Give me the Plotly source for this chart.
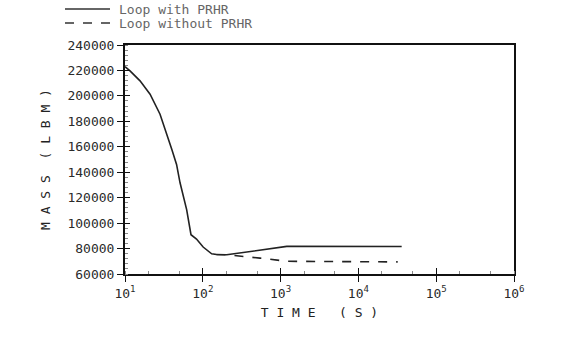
import plotly.graph_objects as go

# Loop with PRHR (solid) -- includes common early part
t_with = [10, 11.6, 15.6, 21, 28.2, 36, 40, 46, 51, 62, 70.5, 83, 101, 130, 150, 203, 543, 1200, 36000]
m_with = [223000, 219700, 211800, 201300, 185600, 167200, 157900, 146100, 131700, 110600,
          90900, 87500, 81200, 75900, 75300, 75100, 78500, 81700, 81600]

# Loop without PRHR (dashed) -- after split
t_without = [150, 203, 543, 1200, 32000]
m_without = [75300, 75100, 72500, 70000, 69500]

series_names = ["Loop with PRHR", "Loop without PRHR"]
x_tickvals = [10, 100, 1000, 10000, 100000, 1000000]
x_ticktext = ["10<sup>1</sup>", "10<sup>2</sup>", "10<sup>3</sup>", "10<sup>4</sup>", "10<sup>5</sup>", "10<sup>6</sup>"]
y_tickvals = list(range(60000, 240001, 20000))

font_fam = "DejaVu Sans Mono"
ink = "#2a2a2a"

W, H = 561, 345
ML, MR, MT, MB = 125, 47, 45, 71
PW, PH = W - ML - MR, H - MT - MB


def px_to_paper(px, py):
    return (px - ML) / PW, (H - MB - py) / PH


fig = go.Figure()
fig.add_trace(go.Scatter(x=t_with, y=m_with, mode="lines", name=series_names[0], showlegend=False,
                         line=dict(color="#222", width=1.6)))
fig.add_trace(go.Scatter(x=t_without, y=m_without, mode="lines", name=series_names[1], showlegend=False,
                         line=dict(color="#222", width=1.6, dash="dash")))
# invisible copy bound to the overlay axes so they get drawn (inner half of crossing ticks)
fig.add_trace(go.Scatter(x=t_with, y=m_with, mode="lines", xaxis="x2", yaxis="y2",
                         showlegend=False, hoverinfo="skip",
                         line=dict(color="rgba(0,0,0,0)", width=0)))

# hand-drawn legend (above the plot, top-left)
for i, (name, dash) in enumerate(zip(series_names, ["solid", "dash"])):
    ypix = 9 + 14 * i
    x0, y0 = px_to_paper(65, ypix)
    x1, _ = px_to_paper(110, ypix)
    fig.add_shape(type="line", xref="paper", yref="paper", x0=x0, x1=x1, y0=y0, y1=y0,
                  line=dict(color="#333", width=1.6, dash=dash))
    tx, _ = px_to_paper(117, ypix)
    fig.add_annotation(xref="paper", yref="paper", x=tx, y=y0, text=name, showarrow=False,
                       xanchor="left", yanchor="middle",
                       font=dict(size=13, family=font_fam, color="#666"))

fig.update_layout(
    width=W, height=H,
    margin=dict(l=ML, r=MR, t=MT, b=MB, autoexpand=False),
    paper_bgcolor="white", plot_bgcolor="white",
    font=dict(family=font_fam, color=ink, size=12),
    showlegend=False,
    xaxis=dict(type="log", range=[1, 6], tickvals=x_tickvals, ticktext=x_ticktext,
               showgrid=False, zeroline=False, showline=True, mirror=True,
               linecolor="#111", linewidth=2, ticks="outside", ticklen=6, tickcolor="#111",
               tickfont=dict(size=13, family=font_fam, color=ink),
               minor=dict(ticks="inside", ticklen=3, tickcolor="#888", showgrid=False),
               title=dict(text="T I M E   ( S )", font=dict(size=13, family=font_fam, color="#222"), standoff=8)),
    yaxis=dict(range=[60000, 240000], tickvals=y_tickvals, tickformat="d",
               showgrid=False, zeroline=False, showline=True, mirror=True,
               linecolor="#111", linewidth=2, ticks="outside", ticklen=6, tickcolor="#111",
               tickfont=dict(size=13, family=font_fam, color=ink),
               minor=dict(ticks="inside", ticklen=3, dtick=4000, tickcolor="#888", showgrid=False),
               title=dict(text="M A S S  ( L B M )", font=dict(size=13, family=font_fam, color="#222"), standoff=14)),
    # overlay axes to draw the inner half of the major ticks (ticks crossing the axis line)
    xaxis2=dict(type="log", range=[1, 6], tickvals=x_tickvals, overlaying="x", side="bottom",
                showticklabels=False, showgrid=False, zeroline=False, showline=False,
                ticks="inside", ticklen=6, tickcolor="#111"),
    yaxis2=dict(range=[60000, 240000], tickvals=y_tickvals, overlaying="y", side="left",
                showticklabels=False, showgrid=False, zeroline=False, showline=False,
                ticks="inside", ticklen=5, tickcolor="#111"),
)

fig.write_html("out.html")
